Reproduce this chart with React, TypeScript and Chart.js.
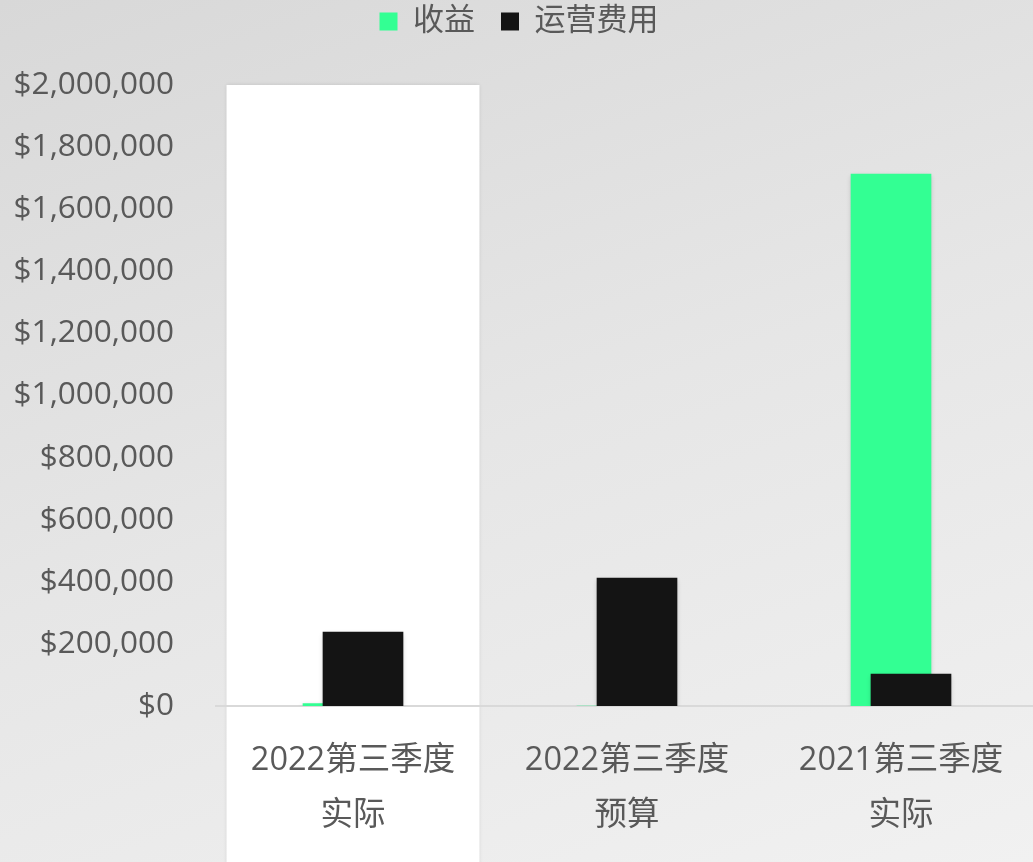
import React, { useEffect, useRef } from "react";
import { Chart, registerables } from "chart.js";

Chart.register(...registerables);

const categories: string[][] = [
  ["2022第三季度", "实际"],
  ["2022第三季度", "预算"],
  ["2021第三季度", "实际"],
];
const seriesNames = ["收益", "运营费用"];
const revenue = [8000, 0, 1713000];
const opex = [238000, 412000, 103000];
const yTicks = [0, 200000, 400000, 600000, 800000, 1000000, 1200000, 1400000, 1600000, 1800000, 2000000];

const FONT = "'Open Sans', 'Noto Sans CJK SC', sans-serif";
const TEXT = "#595959";

const highlightPlugin = {
  id: "highlight",
  beforeDraw(chart: any) {
    const { ctx, scales } = chart;
    const x = scales.x;
    const y = scales.y;
    const c = x.getPixelForValue(0);
    const w = x.getPixelForValue(1) - c;
    const half = w * 0.4615;
    const top = y.getPixelForValue(2000000);
    ctx.save();
    ctx.shadowColor = "rgba(0,0,0,0.12)";
    ctx.shadowBlur = 4;
    ctx.fillStyle = "#ffffff";
    ctx.fillRect(c - half, top, half * 2, chart.height - top + 10);
    ctx.restore();
  },
};

const legendSpacePlugin = {
  id: "legendSpace",
  beforeLayout(chart: any) {
    const lg = chart.legend;
    if (lg && !lg.__patched) {
      const orig = lg.fit;
      lg.fit = function () {
        orig.call(this);
        this.height += 38;
      };
      lg.__patched = true;
    }
  },
};

const shiftPlugin = {
  id: "shiftBars",
  afterDatasetsUpdate(chart: any) {
    const x = chart.scales.x;
    const w = x.getPixelForValue(1) - x.getPixelForValue(0);
    const off = w * 0.0365;
    chart.getDatasetMeta(0).data.forEach((el: any) => { el.x -= off; });
    chart.getDatasetMeta(1).data.forEach((el: any) => { el.x += off; });
  },
  beforeDatasetsDraw(chart: any) {
    const ctx = chart.ctx;
    ctx.save();
    ctx.shadowColor = "rgba(0,0,0,0.22)";
    ctx.shadowBlur = 5;
    ctx.shadowOffsetY = 2;
  },
  afterDatasetsDraw(chart: any) {
    chart.ctx.restore();
  },
};

export default function App() {
  const ref = useRef<HTMLCanvasElement | null>(null);

  useEffect(() => {
    document.body.style.margin = "0";
    document.body.style.overflow = "hidden";
    const canvas = ref.current;
    if (!canvas) return;
    const chart = new Chart(canvas, {
      type: "bar",
      data: {
        labels: categories,
        datasets: [
          {
            label: seriesNames[0],
            data: revenue,
            backgroundColor: "#33FF93",
            barThickness: 80,
            grouped: false,
            order: 2,
          },
          {
            label: seriesNames[1],
            data: opex,
            backgroundColor: "#141414",
            borderWidth: 0,
            barThickness: 80,
            grouped: false,
            order: 1,
          },
        ],
      },
      options: {
        animation: false,
        responsive: true,
        maintainAspectRatio: false,
        layout: { padding: { top: -20, right: 0, left: 0, bottom: 0 } },
        plugins: {
          tooltip: { enabled: false },
          legend: {
            position: "top",
            labels: {
              color: TEXT,
              font: { family: FONT, size: 31 },
              boxWidth: 18,
              boxHeight: 18,
              padding: 26,
              sort: (a: any, b: any) => a.datasetIndex - b.datasetIndex,
            },
          },
        },
        scales: {
          x: {
            grid: { display: false, drawTicks: false },
            border: { display: true, color: "#d9d9d9", width: 2 },
            ticks: {
              color: TEXT,
              font: { family: FONT, size: 32.5, lineHeight: 1.7 },
              padding: 27,
              maxRotation: 0,
              autoSkip: false,
            },
            afterFit: (s: any) => { s.height = 156; },
          },
          y: {
            min: 0,
            max: 2000000,
            grid: { display: false, drawTicks: false },
            border: { display: false },
            afterBuildTicks: (s: any) => { s.ticks = yTicks.map((v) => ({ value: v })); },
            ticks: {
              color: TEXT,
              font: { family: FONT, size: 31.5 },
              padding: 42,
              callback: (v: any) => "$" + Number(v).toLocaleString("en-US"),
            },
            afterFit: (s: any) => { s.width = 216; s.paddingTop = 85; },
          },
        },
      },
      plugins: [highlightPlugin, legendSpacePlugin, shiftPlugin],
    });
    return () => chart.destroy();
  }, []);

  return (
    <div
      style={{
        position: "fixed",
        left: 0,
        top: 0,
        width: 1038,
        height: 862,
        background: "linear-gradient(160deg, #d8d8d8 0%, #e6e6e6 50%, #f1f1f1 100%)",
      }}
    >
      <canvas ref={ref} />
    </div>
  );
}
